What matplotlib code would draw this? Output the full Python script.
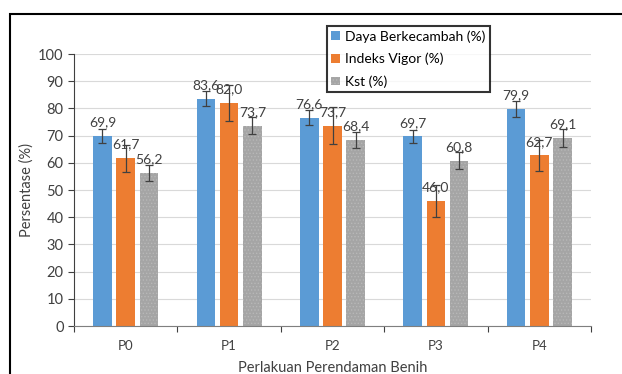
import matplotlib.pyplot as plt
import matplotlib.patches as mpatches
import numpy as np

plt.rcParams['font.family'] = ['Lato', 'DejaVu Sans']
plt.rcParams['hatch.linewidth'] = 0.6

# Data
categories = ['P0', 'P1', 'P2', 'P3', 'P4']
series = ['Daya Berkecambah (%)', 'Indeks Vigor (%)', 'Kst (%)']
daya = [69.9, 83.6, 76.6, 69.7, 79.9]
vigor = [61.7, 82.0, 73.7, 46.0, 62.7]
kst = [56.2, 73.7, 68.4, 60.8, 69.1]
daya_err = [2.7, 2.7, 2.8, 2.5, 2.9]
vigor_err = [5.0, 6.5, 6.7, 6.0, 5.7]
kst_err = [3.0, 3.0, 3.0, 3.0, 3.2]
colors = ['#5B9BD5', '#ED7D31', '#A5A5A5']

W, H = 622, 374
fig = plt.figure(figsize=(W / 100, H / 100), dpi=100)
ax = fig.add_axes([74 / W, 1 - 326 / H, (591 - 74) / W, (326 - 54) / H])

x = np.arange(len(categories))
offsets = [-0.225, 0.0, 0.225]
bw = 0.18
values = [daya, vigor, kst]
errs = [daya_err, vigor_err, kst_err]
txt = '#404040'

for i in range(3):
    xs = x + offsets[i]
    if i == 2:
        # textured grey like the original
        ax.bar(xs, values[i], bw, color=colors[i], edgecolor='#B8B8B8',
               linewidth=0, hatch='.....', label=series[i], zorder=2)
    else:
        ax.bar(xs, values[i], bw, color=colors[i], label=series[i], zorder=2)
    ax.errorbar(xs, values[i], yerr=errs[i], fmt='none', ecolor='#404040',
                elinewidth=0.9, capsize=3, capthick=0.9, zorder=3)
    for xi, v in zip(xs, values[i]):
        ax.annotate(f"{v:.1f}".replace('.', ','), (xi, v), xytext=(0, 5.5),
                    textcoords='offset points', ha='center', va='bottom',
                    fontsize=10, color=txt, zorder=4)

ax.set_xlim(-0.5, len(categories) - 0.5)
ax.set_ylim(0, 100)
ax.set_yticks(np.arange(0, 101, 10))
ax.yaxis.grid(True, color='#D9D9D9', linewidth=0.8, zorder=0)
ax.set_axisbelow(True)

ax.set_xticks(x)
ax.set_xticklabels(categories)
ax.set_xticks(np.arange(-0.5, len(categories)), minor=True)
ax.tick_params(axis='x', which='major', length=0, pad=10, labelsize=9.5, colors=txt)
ax.tick_params(axis='x', which='minor', length=4, color='#404040', width=0.8)
ax.tick_params(axis='y', length=4, color='#404040', width=0.8, labelsize=10.5,
               labelcolor=txt)

for s in ['top', 'right']:
    ax.spines[s].set_visible(False)
ax.spines['left'].set_color('#404040')
ax.spines['bottom'].set_color('#7F7F7F')

ax.set_ylabel('Persentase (%)', fontsize=10.5, color=txt, labelpad=3)
ax.set_xlabel('Perlakuan Perendaman Benih', fontsize=10.5, color=txt, labelpad=6.5)

leg = fig.legend(loc='upper left', bbox_to_anchor=(327 / W, 1 - 26 / H),
                 frameon=True, fancybox=False, fontsize=10, labelspacing=0.72,
                 handlelength=0.6, handleheight=0.6, handletextpad=0.4,
                 borderpad=0.3, borderaxespad=0)
leg.get_frame().set_edgecolor('black')
leg.get_frame().set_linewidth(1.5)

fig.patches.append(mpatches.Rectangle((10 / W, -0.1), 1.0, (H - 14) / H + 0.1,
                                      transform=fig.transFigure, fill=False,
                                      edgecolor='black', linewidth=1.5))

fig.savefig('out.png', dpi=100)
